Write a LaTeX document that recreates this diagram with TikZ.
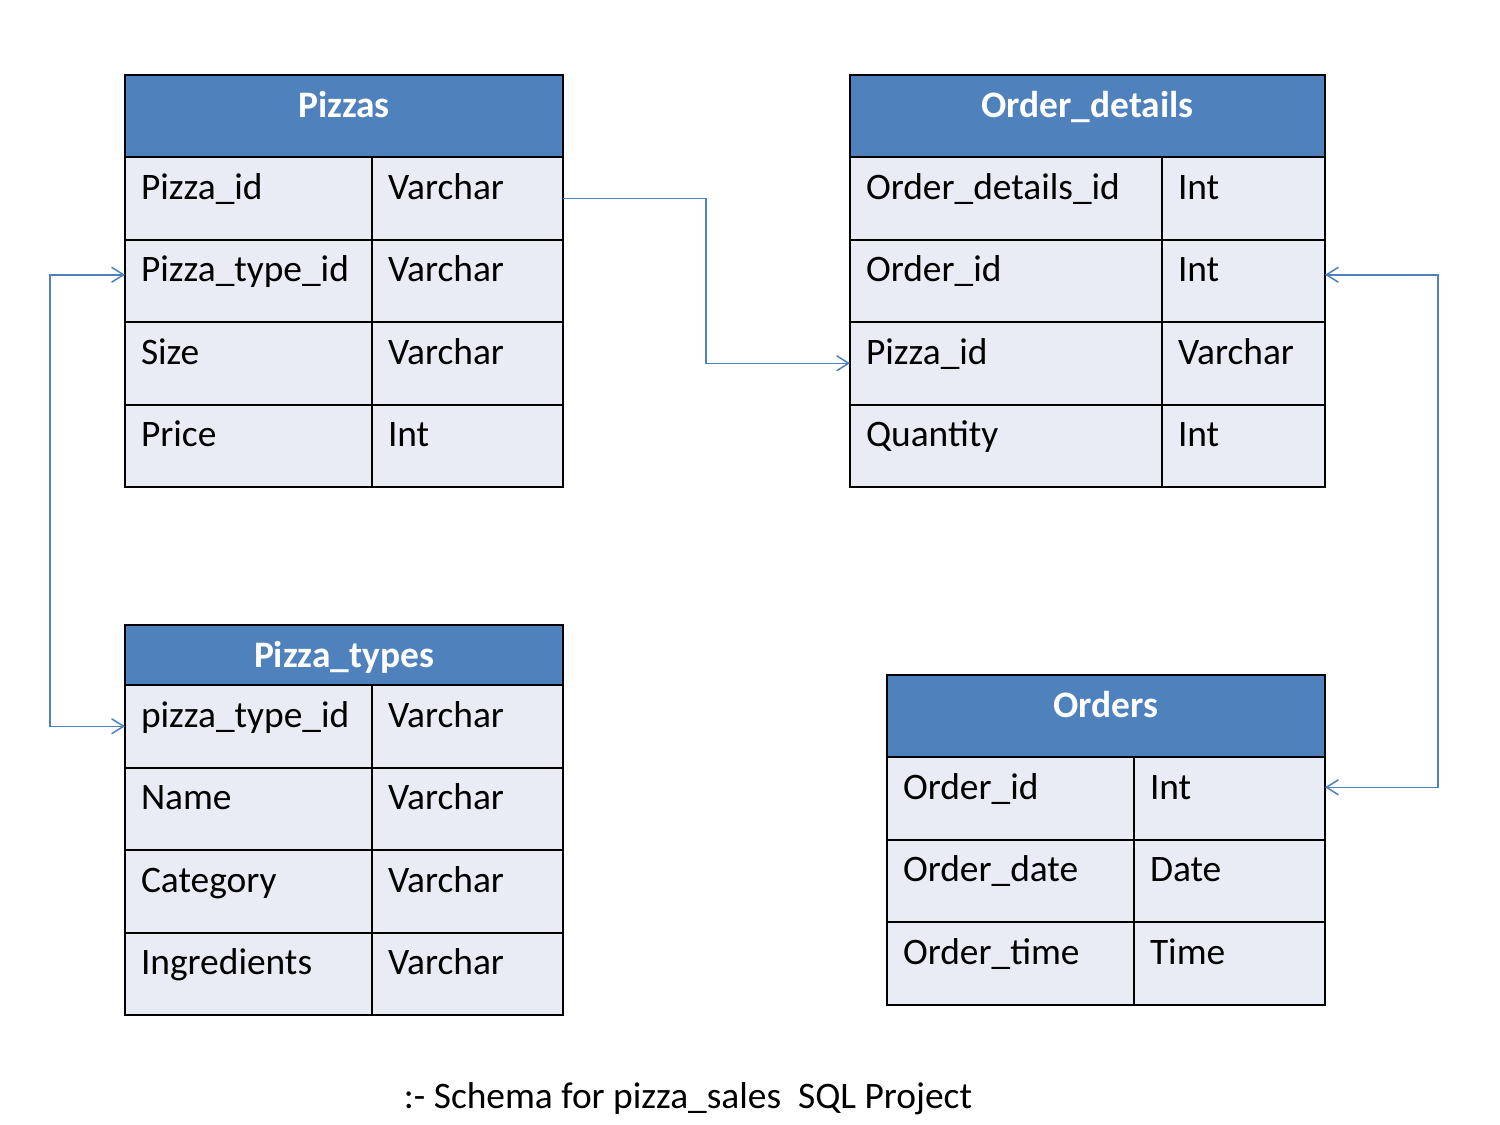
\documentclass[tikz,border=0pt]{standalone}
\usepackage{fontspec}
\setmainfont{Carlito}
\usepackage{tikz}
\usetikzlibrary{positioning,arrows.meta}
\definecolor{azzurro}{HTML}{4F81BD}
\definecolor{grigino}{HTML}{E9EBF5}

\tikzset{
    testo/.style={font=\fontsize{18.7pt}{22pt}\selectfont},
    cella/.style={testo, draw=black, line width=1pt, fill=grigino, anchor=north west, outer sep=0pt,
        inner ysep=0pt, inner xsep=8pt, align=left, text height=21pt, text depth=20.25pt},
    titolo/.style={draw=black, line width=1pt, fill=azzurro, text=white, anchor=north west, outer sep=0pt,
        font=\fontsize{18.7pt}{22pt}\selectfont\bfseries, inner ysep=0pt, inner xsep=8pt,
        align=center, text height=21pt},
    collegamento/.style={draw=azzurro, line width=0.75pt, >={Straight Barb[length=6pt,width=7.5pt]}}
}

\begin{document}
\begin{tikzpicture}[x=0.5pt,y=-0.5pt]
    \useasboundingbox (0,0) rectangle (1500,1125);
    % Tabella Pizzas
    \node[titolo, text width=203pt, text depth=20pt] (pz) at (125,75) {Pizzas};
    \foreach \nome/\tipo [count=\i] in {Pizza\_id/Varchar, Pizza\_type\_id/Varchar, Size/Varchar, Price/Int} {
        \node[cella, text width=107.5pt] (pz-\i-a) at (125, 74.5+82.5*\i) {\nome};
        \node[cella, text width=79.5pt]  (pz-\i-b) at (pz-\i-a.north east) {\tipo};
    }
    % Tabella Order_details
    \node[titolo, text width=221.5pt, text depth=20pt] (od) at (850,75) {Order\_details};
    \foreach \nome/\tipo [count=\i] in {Order\_details\_id/Int, Order\_id/Int, Pizza\_id/Varchar, Quantity/Int} {
        \node[cella, text width=140pt]  (od-\i-a) at (850, 74.5+82.5*\i) {\nome};
        \node[cella, text width=65.5pt] (od-\i-b) at (od-\i-a.north east) {\tipo};
    }
    % Tabella Pizza_types
    \node[titolo, text width=203pt, text depth=9pt] (pt) at (125,625) {Pizza\_types};
    \foreach \nome/\tipo [count=\i] in {pizza\_type\_id/Varchar, Name/Varchar, Category/Varchar, Ingredients/Varchar} {
        \node[cella, text width=107.5pt] (pt-\i-a) at (125, 602.5+82.5*\i) {\nome};
        \node[cella, text width=79.5pt]  (pt-\i-b) at (pt-\i-a.north east) {\tipo};
    }
    % Tabella Orders
    \node[titolo, text width=203pt, text depth=20pt] (or) at (887,675) {Orders};
    \foreach \nome/\tipo [count=\i] in {Order\_id/Int, Order\_date/Date, Order\_time/Time} {
        \node[cella, text width=107.5pt] (or-\i-a) at (887, 674.5+82.5*\i) {\nome};
        \node[cella, text width=79.5pt]  (or-\i-b) at (or-\i-a.north east) {\tipo};
    }
    % Collegamenti tra le tabelle
    \draw[collegamento, ->] (pz-1-b.east) -- ++(71.5pt,0) |- (od-3-a.west);
    \draw[collegamento, <->] ([yshift=3pt]pz-2-a.west) -- ++(-37.5pt,0) |- (pt-1-a.west);
    \draw[collegamento, <->] ([yshift=3pt]od-2-b.east) -- ++(56.5pt,0) |- ([yshift=5.5pt]or-1-b.east);
    % Didascalia
    \node[testo, anchor=base] (didascalia) at (688,1108) {:- Schema for pizza\_sales\ \ SQL Project};
\end{tikzpicture}
\end{document}
